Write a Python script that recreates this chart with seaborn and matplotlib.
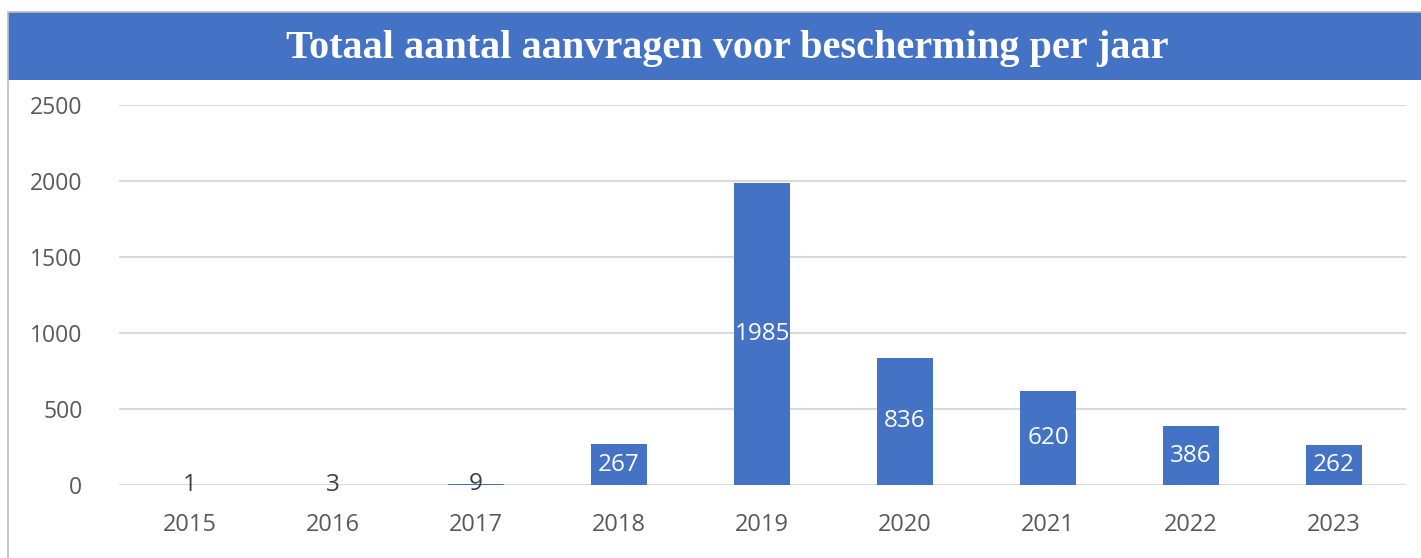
import numpy as np
import pandas as pd
import matplotlib.pyplot as plt
import seaborn as sns
from matplotlib.patches import Rectangle

sns.set_style("white")
plt.rcParams["font.family"] = ["Open Sans", "DejaVu Sans"]

years = ["2015", "2016", "2017", "2018", "2019", "2020", "2021", "2022", "2023"]
counts = [1, 3, 9, 267, 1985, 836, 620, 386, 262]

title = "Totaal aantal aanvragen voor bescherming per jaar"
bar_color = "#4472C4"
text_gray = "#595959"

df = pd.DataFrame({"year": years, "count": counts})

fig = plt.figure(figsize=(14.21, 5.58), dpi=100)
ax = fig.add_axes([0.0834, 0.1308, 0.9057, 0.681])

sns.barplot(data=df, x="year", y="count", color=bar_color, saturation=1,
            width=0.39, linewidth=0, ax=ax)

ax.set_ylim(0, 2500)
ax.set_yticks([0, 500, 1000, 1500, 2000, 2500])
ax.set_xlim(-0.5, len(years) - 0.5)
ax.yaxis.grid(True, color="#d9d9d9", linewidth=1.5)
ax.set_axisbelow(True)
for s in ax.spines.values():
    s.set_visible(False)
ax.set_xlabel("")
ax.set_ylabel("")
ax.tick_params(axis="y", labelsize=16.5, labelcolor=text_gray, length=0, pad=26)
ax.tick_params(axis="x", labelsize=17, labelcolor=text_gray, length=0, pad=20)

# data labels centred in the bars
for i, v in enumerate(counts):
    col = "white" if v > 100 else "#404040"
    ax.text(i, v / 2, str(v), ha="center", va="center", fontsize=17.5, color=col)

# title banner and outer frame
fig.patches.append(Rectangle((0.0056, 0.857), 1.0, 0.122, transform=fig.transFigure,
                             facecolor=bar_color, edgecolor="none", zorder=0))
fig.patches.append(Rectangle((0.0056, -0.01), 1.0, 0.989, transform=fig.transFigure,
                             facecolor="none", edgecolor="#bfbfbf", linewidth=1.2, zorder=1))
fig.text(0.512, 0.913, title, ha="center", va="center", color="white",
         fontsize=29, fontweight="bold", family=["Liberation Serif", "DejaVu Serif"])

plt.savefig("out.png", dpi=100)
